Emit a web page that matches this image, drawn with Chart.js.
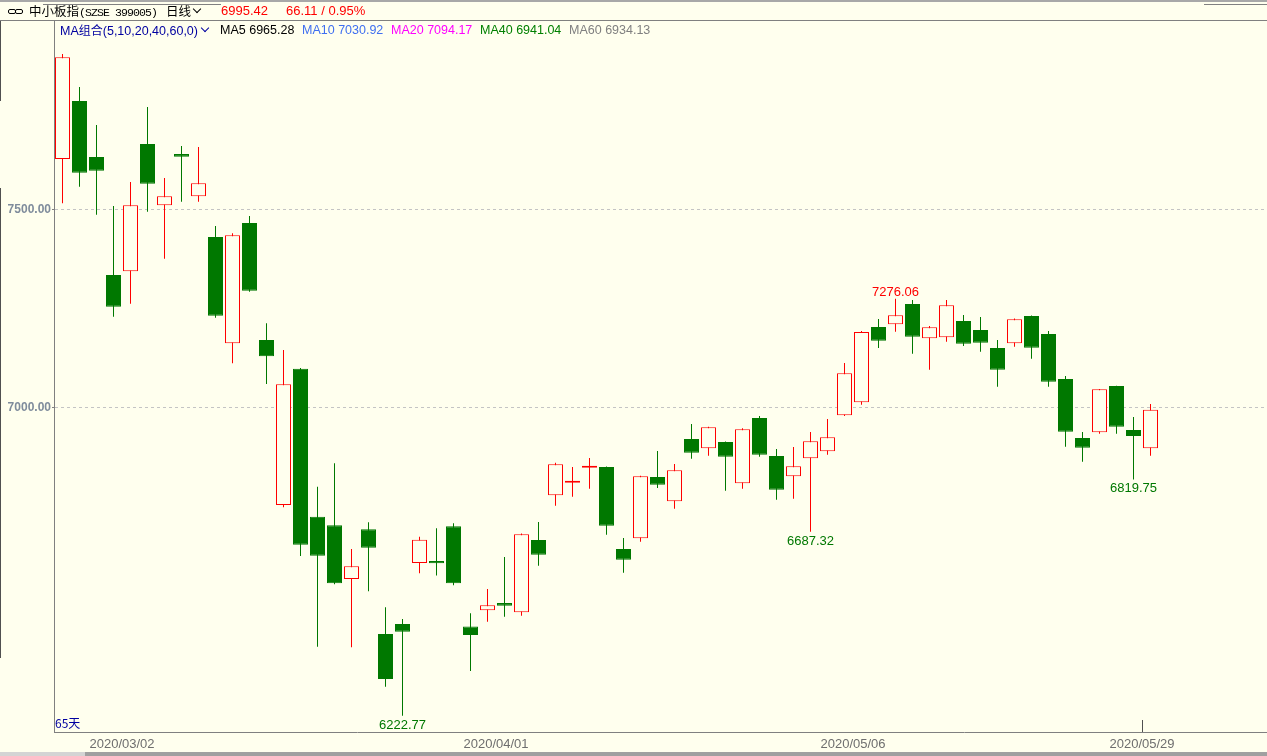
<!DOCTYPE html>
<html><head><meta charset="utf-8">
<script src="https://cdn.jsdelivr.net/npm/chart.js@4.4.1/dist/chart.umd.min.js"></script>
<style>
html,body{margin:0;padding:0;background:#FFFFEE;overflow:hidden;}
#wrap{position:relative;width:1267px;height:756px;background:#FFFFEE;}
canvas{position:absolute;left:0;top:0;}
.t{position:absolute;white-space:nowrap;font-family:'Liberation Sans',Arial,sans-serif;font-size:12.5px;line-height:16px;}
.ln{position:absolute;background:#808080;}
.chev{position:absolute;width:5px;height:5px;border-right:1.5px solid #000;border-bottom:1.5px solid #000;transform:rotate(45deg);}
</style></head><body>
<div id="wrap">
<canvas id="c" width="1267" height="756"></canvas>

<!-- header frame -->
<div class="ln" style="left:0;top:0;width:1267px;height:2px;background:#A8A8A8"></div>
<div class="ln" style="left:43px;top:4px;width:178px;height:1px"></div>
<div class="ln" style="left:1204px;top:4px;width:63px;height:1px"></div>
<div class="ln" style="left:0;top:20px;width:1267px;height:1px"></div>
<div class="ln" style="left:0;top:21px;width:1px;height:80px;background:#505050"></div>
<div class="ln" style="left:0;top:188px;width:1px;height:470px;background:#505050"></div>
<div class="ln" style="left:0;top:752px;width:85px;height:4px;background:#D4D4D4"></div>
<div class="ln" style="left:85px;top:752px;width:1182px;height:4px;background:#A0A0A0"></div>

<!-- title row -->
<div style="position:absolute;left:8px;top:9px;width:6px;height:3px;border:1.5px solid #000;border-radius:2px;"></div>
<div style="position:absolute;left:15px;top:9px;width:6px;height:3px;border:1.5px solid #000;border-radius:2px;"></div>
<div class="t" style="left:29px;top:3px;font-family:'Noto Sans CJK SC';font-size:12.5px;color:#000">中小板指<span style="font-family:'Liberation Mono',monospace;font-size:11.5px;letter-spacing:-0.9px">(SZSE 399005)</span></div>
<div class="t" style="left:166px;top:3px;font-family:'Noto Sans CJK SC';font-size:12.5px;color:#000">日线</div>
<div class="chev" style="left:194px;top:6px;"></div>
<div class="t" style="left:221px;top:3px;font-size:13px;color:#FF0000">6995.42</div>
<div class="t" style="left:286px;top:3px;font-size:13px;color:#FF0000">66.11 / 0.95%</div>

<!-- MA row -->
<div class="t" style="left:60px;top:22px;color:#0000A0"><span style="font-family:'Liberation Sans'">MA</span><span style="font-family:'Noto Sans CJK SC';font-size:12px">组合</span>(5,10,20,40,60,0)</div>
<div class="chev" style="left:202px;top:25px;border-color:#0000A0;"></div>
<div class="t" style="left:220px;top:22px;color:#000000">MA5 6965.28</div>
<div class="t" style="left:302px;top:22px;color:#3F6FF0">MA10 7030.92</div>
<div class="t" style="left:391px;top:22px;color:#FF00FF">MA20 7094.17</div>
<div class="t" style="left:480px;top:22px;color:#008000">MA40 6941.04</div>
<div class="t" style="left:569px;top:22px;color:#808080">MA60 6934.13</div>

<div class="t" style="left:55px;top:715px;font-size:12px;color:#0000A0;font-family:'Noto Sans CJK SC'">65天</div>
</div>

<script>
// ---------- data ----------
const dates = [
 '2020/02/25','2020/02/26','2020/02/27','2020/02/28','2020/03/02','2020/03/03','2020/03/04','2020/03/05','2020/03/06',
 '2020/03/09','2020/03/10','2020/03/11','2020/03/12','2020/03/13','2020/03/16','2020/03/17','2020/03/18','2020/03/19',
 '2020/03/20','2020/03/23','2020/03/24','2020/03/25','2020/03/26','2020/03/27','2020/03/30','2020/03/31','2020/04/01',
 '2020/04/02','2020/04/03','2020/04/07','2020/04/08','2020/04/09','2020/04/10','2020/04/13','2020/04/14','2020/04/15',
 '2020/04/16','2020/04/17','2020/04/20','2020/04/21','2020/04/22','2020/04/23','2020/04/24','2020/04/27','2020/04/28',
 '2020/04/29','2020/04/30','2020/05/06','2020/05/07','2020/05/08','2020/05/11','2020/05/12','2020/05/13','2020/05/14',
 '2020/05/15','2020/05/18','2020/05/19','2020/05/20','2020/05/21','2020/05/22','2020/05/25','2020/05/26','2020/05/27',
 '2020/05/28','2020/05/29'
];
const opens = [
 7628.8,7775.3,7633.8,7335.9,7345.2,7666.7,7511.9,7641.4,7534.6,7431.8,
 7163.4,7467.2,7171.7,6755.1,7099.2,6725.5,6703.8,6568.2,6693.7,6429.3,
 6454.5,6608.7,6613.6,6701.3,6448.0,6489.1,6507.6,6484.1,6666.7,6779.5,
 6811.4,6849.0,6851.0,6643.9,6670.9,6825.8,6764.4,6921.7,6898.2,6914.1,
 6809.8,6974.7,6878.8,6827.5,6873.0,6890.7,6981.6,7014.4,7204.5,7211.4,
 7262.6,7176.0,7178.5,7219.7,7197.0,7151.5,7163.4,7232.3,7186.9,7073.2,
 6924.2,6938.6,7055.6,6944.4,6898.2
];
const highs = [
 7894.0,7810.6,7714.6,7510.1,7570.7,7760.1,7580.8,7661.6,7659.1,7459.6,
 7441.2,7484.8,7213.9,7146.5,7101.0,6801.3,6860.3,6643.9,6711.4,6496.7,
 6467.2,6675.0,6696.2,6708.8,6481.5,6542.9,6623.7,6683.0,6712.1,6861.9,
 6851.0,6873.7,6852.5,6671.7,6829.0,6891.4,6858.6,6959.6,6952.5,6915.5,
 6948.7,6979.8,6896.5,6901.5,6939.4,6972.2,7113.6,7194.4,7224.7,7276.06,
 7272.7,7207.1,7273.0,7234.8,7229.8,7171.7,7226.0,7233.5,7194.4,7080.8,
 6939.4,7048.0,7056.5,6977.3,7010.1
];
const lows = [
 7517.0,7558.8,7488.0,7230.6,7263.4,7495.7,7377.0,7521.0,7521.0,7228.0,
 7112.9,7293.7,7060.6,6749.2,6626.3,6397.2,6555.0,6395.7,6537.1,6296.2,
 6222.77,6582.6,6577.0,6552.3,6335.9,6460.4,6473.0,6475.5,6601.8,6753.3,
 6776.0,6796.2,6680.0,6584.1,6662.4,6798.0,6745.7,6872.0,6879.5,6791.2,
 6796.2,6877.0,6768.4,6771.0,6687.32,6882.1,6980.0,7008.3,7151.5,7192.7,
 7137.1,7096.7,7167.4,7156.6,7142.2,7053.9,7154.8,7124.5,7053.9,6902.3,
 6864.4,6935.1,6935.1,6819.75,6879.5
];
const closes = [
 7885.6,7594.2,7599.2,7255.8,7511.9,7566.4,7534.6,7634.6,7567.4,7233.1,
 7436.1,7296.2,7130.6,7059.8,6654.8,6627.0,6557.3,6600.3,6647.2,6315.7,
 6435.1,6667.4,6607.8,6557.4,6427.0,6501.8,6500.8,6681.1,6629.5,6857.8,
 6816.4,6851.0,6702.8,6616.9,6827.5,6806.3,6842.7,6887.1,6951.3,6877.0,
 6946.2,6882.1,6793.7,6852.8,6915.9,6926.0,7087.6,7191.9,7170.0,7234.1,
 7180.0,7203.8,7259.3,7162.4,7164.9,7096.7,7224.0,7152.3,7066.4,6940.2,
 6899.7,7047.2,6952.8,6929.31,6995.42
];
const yTickValues = [7000, 7500];
const xTickDates = ['2020/03/02','2020/04/01','2020/05/06','2020/05/29'];
const markerDate = '2020/05/29';
const markIdx = [49, 20, 44, 63];
const markType = ['high','low','low','low'];

// ---------- styling ----------
const RED = '#FF0000', GREEN = '#007800', BG = '#FFFFEE';
const SLOT = 17;
const Y_MIN = 6181.82, Y_MAX = 7977.27;

const up = closes.map((c,i) => c >= opens[i]);
const wickData = lows.map((l,i) => ({x:i, y:[l, highs[i]]}));
const bodyData = opens.map((o,i) => ({x:i, y:[o, closes[i]]}));

const annot = {
  id:'annot',
  afterDatasetsDraw(chart){
    const {ctx, scales:{x, y}, chartArea} = chart;
    ctx.save();
    ctx.font = '13px "Liberation Sans", Arial, sans-serif';
    ctx.textAlign = 'center';
    ctx.textBaseline = 'alphabetic';
    markIdx.forEach((i,k) => {
      const hi = markType[k] === 'high';
      const v = hi ? highs[i] : lows[i];
      const px = x.getPixelForValue(i);
      const py = y.getPixelForValue(v);
      ctx.fillStyle = hi ? RED : GREEN;
      ctx.fillText(v.toFixed(2), px, hi ? py - 3 : py + 13);
    });
    const mx = Math.round(x.getPixelForValue(dates.indexOf(markerDate) - 0.5)) + 0.5;
    ctx.strokeStyle = '#505050';
    ctx.lineWidth = 1;
    ctx.beginPath();
    ctx.moveTo(mx, chartArea.bottom - 12);
    ctx.lineTo(mx, chartArea.bottom);
    ctx.stroke();
    ctx.restore();
  }
};

const canvas = document.getElementById('c');
const plotW = 1267 - 54;
new Chart(canvas, {
  type:'bar',
  data:{datasets:[
    {data:wickData, backgroundColor:up.map(u => u ? RED : GREEN), borderWidth:0,
     barThickness:1, grouped:false, order:2, inflateAmount:0},
    {data:bodyData, backgroundColor:up.map(u => u ? BG : GREEN), borderColor:up.map(u => u ? RED : GREEN),
     borderWidth:1, borderSkipped:false, barThickness:15, grouped:false, order:1, minBarLength:2, inflateAmount:0}
  ]},
  options:{
    responsive:false, animation:false, devicePixelRatio:1,
    layout:{padding:{top:21, left:0, right:0, bottom:0}},
    plugins:{legend:{display:false}, tooltip:{enabled:false}},
    scales:{
      x:{
        type:'linear', min:-0.5, max:-0.5 + plotW / SLOT, offset:false,
        grid:{display:false, drawTicks:false},
        border:{display:true, color:'#808080', width:1},
        afterBuildTicks:s => { s.ticks = xTickDates.map(d => ({value: dates.indexOf(d) - 0.5})); },
        ticks:{autoSkip:false, maxRotation:0, minRotation:0, color:'#6E6E6E', padding:5,
               font:{family:'Liberation Sans', size:13},
               callback:v => dates[Math.round(v + 0.5)]},
        afterFit:s => { s.height = 24; }
      },
      y:{
        type:'linear', position:'left', min:Y_MIN, max:Y_MAX,
        afterBuildTicks:s => { s.ticks = yTickValues.map(v => ({value:v})); },
        ticks:{color:'#7F8C9C', padding:1, font:{family:'Liberation Sans', size:12, weight:'bold'},
               callback:v => Number(v).toFixed(2)},
        grid:{color:'#C4C4C4', lineWidth:1, drawTicks:true, tickLength:2, tickColor:'#808080', tickBorderDash:[]},
        border:{display:true, color:'#808080', width:1, dash:[3,3]},
        afterFit:s => { s.width = 54; }
      }
    }
  },
  plugins:[annot]
});
</script>
</body></html>
